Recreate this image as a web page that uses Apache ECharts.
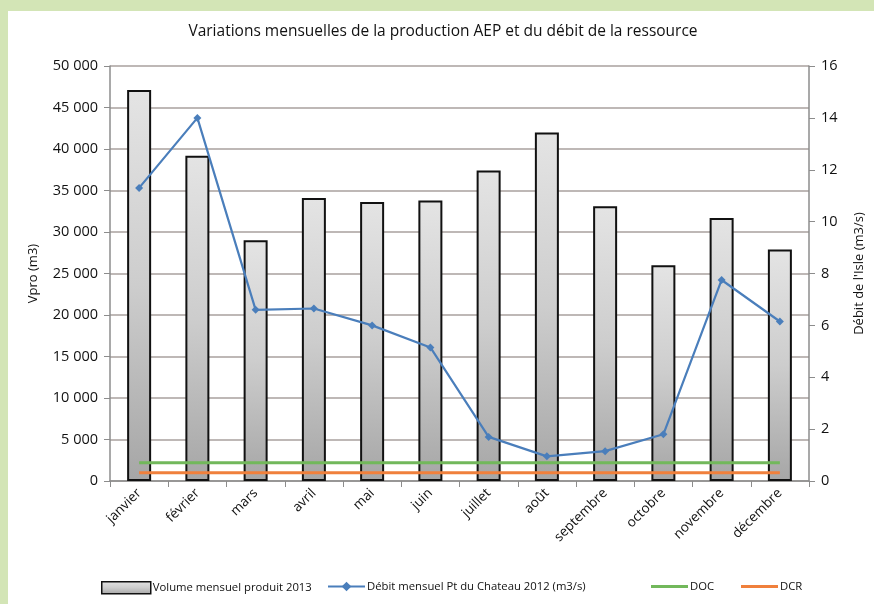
<!DOCTYPE html>
<html>
<head>
<meta charset="utf-8">
<script src="https://cdn.jsdelivr.net/npm/echarts@6/dist/echarts.min.js"></script>
<style>
  html, body { margin: 0; padding: 0; background: #d3e5b6; }
  #frame { position: absolute; left: 8px; top: 11px; width: 866px; height: 593px; background: #ffffff; }
  #chart { position: absolute; left: -8px; top: -11px; width: 874px; height: 604px; }
</style>
</head>
<body>
<div id="frame"><div id="chart"></div></div>
<script>
// Months
const months = ['janvier', 'février', 'mars', 'avril', 'mai', 'juin', 'juillet', 'août', 'septembre', 'octobre', 'novembre', 'décembre'];
// Monthly produced volume 2013 (m3)
const volume2013 = [47100, 39200, 29000, 34100, 33600, 33800, 37400, 42000, 33100, 26000, 31700, 27900];
// Monthly flow at Pt du Chateau 2012 (m3/s)
const debit2012 = [11.3, 14.0, 6.6, 6.65, 6.0, 5.15, 1.7, 0.95, 1.15, 1.8, 7.75, 6.15];
// Reference flow thresholds (m3/s)
const docValue = 0.7;
const dcrValue = 0.32;
const docLine = months.map(() => docValue);
const dcrLine = months.map(() => dcrValue);

const seriesNames = ['Volume mensuel produit 2013', 'Débit mensuel Pt du Chateau 2012 (m3/s)', 'DOC', 'DCR'];

const FONT = 'Open Sans';
const TEXT = '#111111';
const chart = echarts.init(document.getElementById('chart'));

const fmtThousands = v => v >= 1000 ? String(v).replace(/\B(?=(\d{3})+(?!\d))/g, ' ') : String(v);

const barFill = new echarts.graphic.LinearGradient(0, 0, 0, 1, [
  { offset: 0, color: '#e4e4e4' },
  { offset: 0.5, color: '#cdcdcd' },
  { offset: 1, color: '#a6a6a6' }
]);

// Flat line icon for the threshold entries
const flatLine = 'path://M0,0 L40,0 L40,3 L0,3 Z';

function legendBox(left, item, width) {
  return {
    left: left, top: 581, itemWidth: width, itemHeight: 12, padding: 0,
    textStyle: { fontFamily: FONT, fontSize: 11.3, color: TEXT, padding: [0, 0, 0, -3] },
    data: [item]
  };
}

chart.setOption({
  backgroundColor: 'transparent',
  animation: false,
  textStyle: { fontFamily: FONT, color: TEXT },
  title: {
    text: 'Variations mensuelles de la production AEP et du débit de la ressource',
    left: 438, top: 19, textAlign: 'center',
    textStyle: { fontFamily: FONT, fontSize: 15.5, fontWeight: 'normal', color: TEXT }
  },
  legend: [
    legendBox(101, { name: seriesNames[0], icon: 'rect', itemStyle: { color: barFill, borderColor: '#111111', borderWidth: 1.5 } }, 49),
    legendBox(327, { name: seriesNames[1] }, 37),
    legendBox(651, { name: seriesNames[2], icon: flatLine }, 37),
    legendBox(741, { name: seriesNames[3], icon: flatLine }, 37)
  ],
  grid: { left: 110, right: 61, top: 66, bottom: 123 },
  xAxis: {
    type: 'category',
    data: months,
    boundaryGap: true,
    axisLine: { lineStyle: { color: '#8c8c8c', width: 1.5 } },
    axisTick: { show: true, length: 6, lineStyle: { color: '#8c8c8c' } },
    axisLabel: { rotate: 45, fontFamily: FONT, fontSize: 13.5, color: TEXT, margin: 10 }
  },
  yAxis: [
    {
      type: 'value', min: 0, max: 50000, interval: 5000,
      name: 'Vpro (m3)', nameLocation: 'middle', nameGap: 70, nameRotate: 90,
      nameTextStyle: { fontFamily: FONT, fontSize: 13, color: TEXT },
      axisLine: { show: true, lineStyle: { color: '#8c8c8c', width: 1.5 } },
      axisTick: { show: true, length: 6, lineStyle: { color: '#8c8c8c' } },
      axisLabel: { fontFamily: FONT, fontSize: 14.5, color: TEXT, margin: 12, formatter: fmtThousands },
      splitLine: { show: true, lineStyle: { color: '#a8a19e', width: 1.5 } }
    },
    {
      type: 'value', min: 0, max: 16, interval: 2,
      name: "Débit de l'Isle (m3/s)", nameLocation: 'middle', nameGap: 44, nameRotate: 90,
      nameTextStyle: { fontFamily: FONT, fontSize: 13, color: TEXT },
      axisLine: { show: true, lineStyle: { color: '#8c8c8c', width: 1.5 } },
      axisTick: { show: true, length: 6, lineStyle: { color: '#8c8c8c' } },
      axisLabel: { fontFamily: FONT, fontSize: 14.5, color: TEXT, margin: 12 },
      splitLine: { show: false }
    }
  ],
  series: [
    {
      name: seriesNames[0], type: 'bar', yAxisIndex: 0, data: volume2013,
      barWidth: 24,
      itemStyle: { borderColor: '#111111', borderWidth: 2, color: barFill },
      z: 2
    },
    {
      name: seriesNames[1], type: 'line', yAxisIndex: 1, data: debit2012,
      symbol: 'diamond', symbolSize: 8, showSymbol: true,
      lineStyle: { color: '#4a7ebb', width: 2.2 },
      itemStyle: { color: '#4a7ebb' },
      z: 5
    },
    {
      name: seriesNames[2], type: 'line', yAxisIndex: 1, data: docLine,
      symbol: 'none', lineStyle: { color: '#72b85b', width: 3 }, itemStyle: { color: '#72b85b' }, z: 4
    },
    {
      name: seriesNames[3], type: 'line', yAxisIndex: 1, data: dcrLine,
      symbol: 'none', lineStyle: { color: '#f0803c', width: 3 }, itemStyle: { color: '#f0803c' }, z: 4
    }
  ]
});
</script>
</body>
</html>
